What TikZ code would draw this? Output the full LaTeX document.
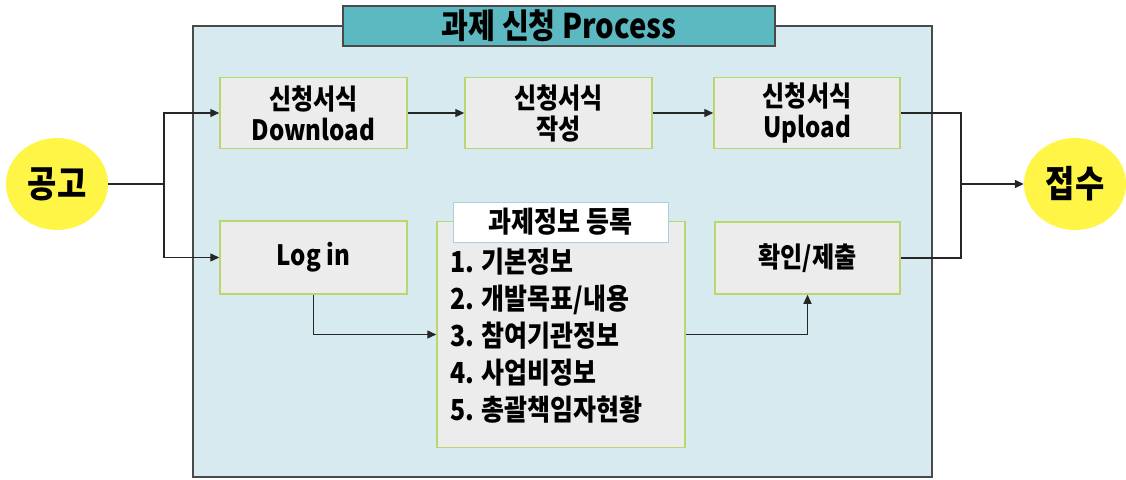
\documentclass[tikz,border=0pt]{standalone}
\usepackage{fontspec}
\setmainfont{Noto Sans CJK KR}[FakeStretch=0.86]
\usetikzlibrary{arrows.meta,shapes.geometric}
\definecolor{panelfill}{HTML}{D7EAF0}
\definecolor{panelline}{HTML}{4A4A4A}
\definecolor{titlefill}{HTML}{5DB9C1}
\definecolor{boxfill}{HTML}{ECECEC}
\definecolor{boxline}{HTML}{B9D76E}
\definecolor{sunny}{HTML}{FFF547}
\definecolor{tagline}{HTML}{A9CFE0}
\tikzset{
  stepbox/.style={draw=boxline, line width=1.5pt, fill=boxfill, rectangle, inner sep=0pt, align=center, font=\fontsize{28}{31}\selectfont\bfseries},
  blob/.style={ellipse, fill=sunny, draw=none, inner sep=0pt, minimum width=102pt, minimum height=92pt, font=\fontsize{37}{40}\selectfont\bfseries},
  conn/.style={line width=1.4pt, draw=black!85},
  arr/.style={conn, -{Triangle[length=9pt,width=8pt]}},
}
\begin{document}
\begin{tikzpicture}[x=1pt,y=-1pt]
\useasboundingbox (0,0) rectangle (1126,479);
% panel and title
\node[draw=panelline, line width=1.3pt, fill=panelfill, minimum width=739pt, minimum height=451pt, inner sep=0pt] (panel) at (562.5,251.5) {};
\node[draw=panelline, line width=1.3pt, fill=titlefill, minimum width=432pt, minimum height=40pt, inner sep=0pt, font=\fontsize{34}{36}\selectfont\bfseries] (title) at (559,26) {과제 신청 Process};
% circles
\node[blob] (gonggo) at (57,184) {공고};
\node[blob] (jeopsu) at (1075,184) {접수};
% boxes
\node[stepbox, minimum width=187pt, minimum height=71pt] (dl) at (313.5,113) {신청서식\\Download};
\node[stepbox, minimum width=187pt, minimum height=71pt] (wr) at (558.5,113) {신청서식\\작성};
\node[stepbox, minimum width=186pt, minimum height=71pt] (ul) at (807,113) {신청서식\\Upload};
\node[stepbox, minimum width=187pt, minimum height=73pt] (login) at (313.5,257.5) {Log in};
\node[stepbox, minimum width=248pt, minimum height=226pt] (info) at (561,334.5) {};
\node[draw=tagline, line width=1pt, fill=white, minimum width=215pt, minimum height=40pt, inner sep=0pt, font=\fontsize{29}{31}\selectfont\bfseries] (infotag) at (560.5,222) {과제정보 등록};
\node[anchor=west, align=left, inner sep=0pt, font=\fontsize{29}{37}\selectfont\bfseries] (list) at (450,336) {1. 기본정보\\2. 개발목표/내용\\3. 참여기관정보\\4. 사업비정보\\5. 총괄책임자현황};
\node[stepbox, minimum width=185pt, minimum height=72pt] (submit) at (807.5,258) {확인/제출};
% connectors
\coordinate (sp) at (164,184);
\coordinate (jn) at (961,184);
\draw[conn] (gonggo.east) -- (sp);
\draw[arr] (sp) |- (dl.west);
\draw[arr] (sp) |- (login.west);
\draw[arr] (dl.east) -- (wr.west);
\draw[arr] (wr.east) -- (ul.west);
\draw[conn] (ul.east) -| (jn);
\draw[conn] (submit.east) -| (jn);
\draw[arr] (jn) -- (jeopsu.west);
\draw[arr] (login.south) |- (info.west);
\draw[arr] (info.east) -| (submit.south);
\end{tikzpicture}
\end{document}
